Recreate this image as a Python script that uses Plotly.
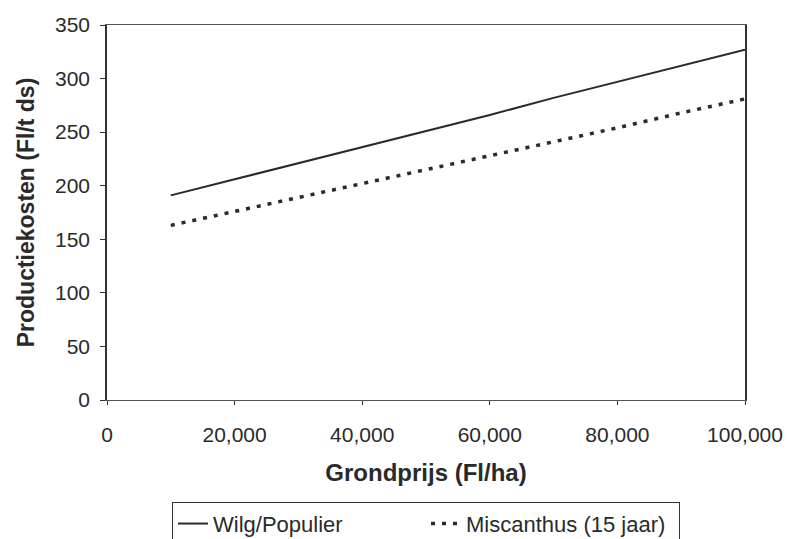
import plotly.graph_objects as go

grondprijs = [10000, 20000, 30000, 40000, 50000, 60000, 70000, 80000, 90000, 100000]
wilg_populier = [191, 206, 221, 236, 251, 266, 282, 297, 312, 327]
miscanthus = [163, 176, 189, 202, 215, 228, 241, 254, 268, 281]

x_ticks = [0, 20000, 40000, 60000, 80000, 100000]
y_ticks = [0, 50, 100, 150, 200, 250, 300, 350]

fig = go.Figure()
fig.add_trace(go.Scatter(x=grondprijs, y=wilg_populier, mode="lines", name="Wilg/Populier",
                         line=dict(color="#2a2a2a", width=2)))
fig.add_trace(go.Scatter(x=grondprijs, y=miscanthus, mode="lines", name="Miscanthus (15 jaar)",
                         line=dict(color="#2a2a2a", width=3.5, dash="4px,7px")))

font_family = "Liberation Sans, Arial, sans-serif"
fig.update_layout(
    width=788, height=539,
    margin=dict(l=107, r=43, t=25, b=139, autoexpand=False),
    paper_bgcolor="white", plot_bgcolor="white",
    font=dict(family=font_family, color="#2a2a2a", size=21),
    showlegend=True,
    legend=dict(orientation="h", x=0.5, xanchor="center", y=-0.33, yanchor="middle",
                bordercolor="#333333", borderwidth=1, font=dict(size=22),
                tracegroupgap=0, entrywidth=208),
    xaxis=dict(range=[0, 100000], tickvals=x_ticks, tickformat=",d", automargin=False,
               showgrid=False, zeroline=False, showline=True, linecolor="#555555", linewidth=1,
               mirror=True, ticks="outside", ticklen=4, tickcolor="#333333",
               tickfont=dict(size=21), ticklabelstandoff=12,
               title=dict(text="<b>Grondprijs (Fl/ha)</b>", font=dict(size=24), standoff=18)),
    yaxis=dict(range=[0, 350], tickvals=y_ticks, automargin=False,
               showgrid=False, zeroline=False, showline=True, linecolor="#333333", linewidth=1.5,
               mirror=True, ticks="outside", ticklen=5, tickcolor="#333333",
               tickfont=dict(size=21), ticklabelstandoff=6,
               title=dict(text="<b>Productiekosten (Fl/t ds)</b>", font=dict(size=23), standoff=14)),
)

fig.write_html("out.html")
